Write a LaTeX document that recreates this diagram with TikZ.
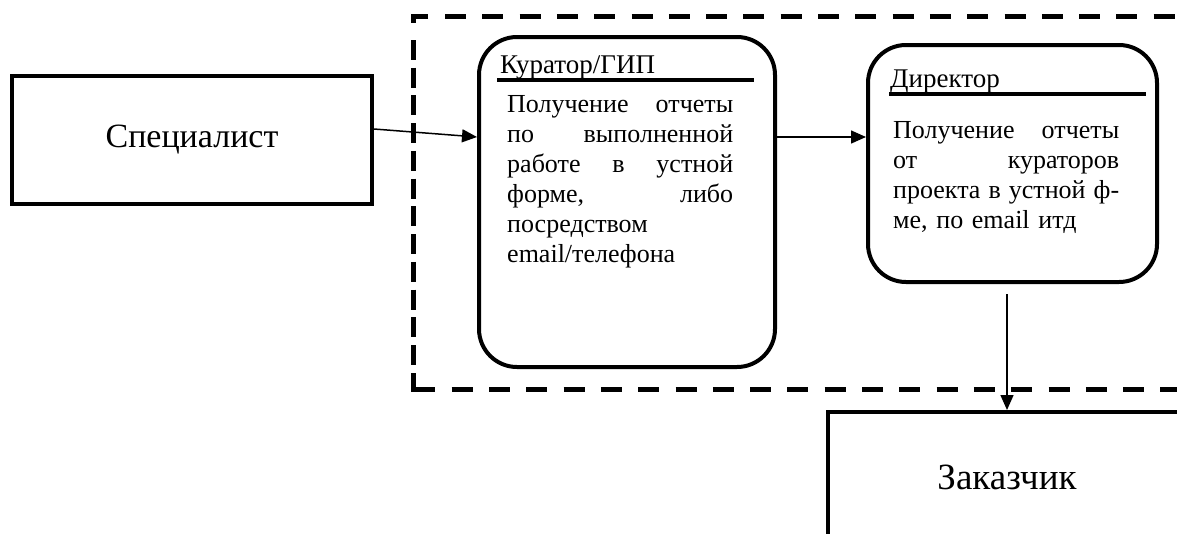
\documentclass[tikz,border=0pt]{standalone}
\usepackage{fontspec}
\setmainfont{Liberation Serif}
\usetikzlibrary{arrows.meta,calc}
\begin{document}
\begin{tikzpicture}[x=1pt,y=-1pt,
  box/.style={draw,line width=4pt,inner sep=0pt},
  lane/.style={draw,line width=4pt,rounded corners=38pt,inner sep=0pt},
  edge/.style={line width=5pt},
  hdash/.style={edge,dash pattern=on 21pt off 16.3pt},
  vdash/.style={edge,dash pattern=on 20pt off 7.73pt},
  arr/.style={line width=1.5pt,-{Triangle[length=15pt,width=13pt]}},
  bar/.style={line width=4pt},
  title/.style={anchor=base west,inner sep=0pt,font=\fontsize{27}{30}\selectfont},
  body/.style={anchor=base west,inner sep=0pt,text width=226pt,align=left,font=\fontsize{26}{30}\selectfont}]
\fill[white] (0,0) rectangle (1177,533);
\clip (0,0) rectangle (1177,533);

% dashed boundary of the organisation
\draw[edge] (428,16) -- (413,16) -- (413,23);
\draw[hdash] (445,16) -- (1200,16);
\draw[vdash] (413,40) -- (413,365);
\draw[edge] (413,373) -- (413,389) -- (435,389);
\draw[hdash] (451.7,389) -- (1200,389);

% participants
\node[box,minimum width=360pt,minimum height=128pt,font=\fontsize{34}{40}\selectfont] (spec) at (192,140) {Специалист};
\node[lane,minimum width=296pt,minimum height=330pt] (cur) at (627,202) {};
\node[lane,minimum width=289pt,minimum height=237pt] (dir) at (1012.5,163.5) {};
\node[box,minimum width=358pt,minimum height=130pt,font=\fontsize{37}{40}\selectfont] (zak) at (1007,477) {Заказчик};

% curator box contents
\node[title] (curTitle) at (500,73) {Куратор/ГИП};
\draw[bar] (497,80) -- (754,80);
\node[body] (curBody) at (507,112) {Получение\hfill отчеты\\ по\hfill выполненной\\ работе\hfill в\hfill устной\\ форме,\hfill либо\\ посредством\\ email/телефона};

% director box contents
\node[title] (dirTitle) at (890,87) {Директор};
\draw[bar] (889,94) -- (1146,94);
\node[body] (dirBody) at (893,138) {Получение\hfill отчеты\\ от\hfill кураторов\\ проекта\hfill в\hfill устной\hfill ф-\\ ме, по email итд};

% information flow
\draw[arr] (spec.east |- 0,129) -- (cur.west |- 0,137);
\draw[arr] (cur.east |- 0,137) -- (dir.west |- 0,137);
\draw[arr,shorten <=10pt] (zak.north |- dir.south) -- (zak.north);
\end{tikzpicture}
\end{document}
